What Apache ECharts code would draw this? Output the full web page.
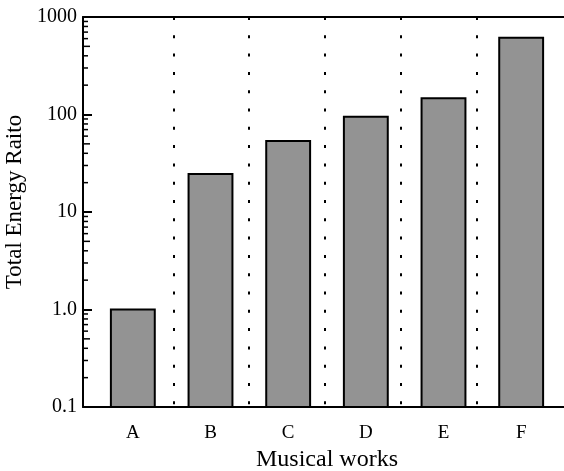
<!DOCTYPE html>
<html>
<head>
<meta charset="utf-8">
<script src="https://cdn.jsdelivr.net/npm/echarts@6/dist/echarts.min.js"></script>
<style>html,body{margin:0;padding:0;background:#fff;}#c{width:564px;height:471px;}</style>
</head>
<body>
<div id="c"></div>
<script>
var categories = ['A', 'B', 'C', 'D', 'E', 'F'];
var energyRatio = [1.0, 24.5, 53.5, 95, 147, 613];
var yTickLabels = ['0.1', '1.0', '10', '100', '1000'];
var yMin = 0.1, yMax = 1000;
var minorTickValues = [];
[0.1, 1, 10, 100].forEach(function (d) {
  for (var k = 2; k <= 9; k++) minorTickValues.push(+(d * k).toPrecision(3));
});

var FONT = 'Liberation Serif';
var chart = echarts.init(document.getElementById('c'));
chart.setOption({
  backgroundColor: '#fff',
  animation: false,
  grid: [
    { left: 83, top: 17, right: 0, bottom: 64, containLabel: false, outerBoundsMode: 'none' },
    { left: 97.5, top: 17, width: 455, bottom: 64, containLabel: false, outerBoundsMode: 'none' },
    { left: 94, top: 17, width: 466, bottom: 64, containLabel: false, outerBoundsMode: 'none' }
  ],
  xAxis: [
    { type: 'value', gridIndex: 0, min: 0, max: 1, position: 'bottom',
      axisLine: { show: true, lineStyle: { color: '#000', width: 2 } },
      axisTick: { show: false }, axisLabel: { show: false }, splitLine: { show: false } },
    { type: 'value', gridIndex: 0, min: 0, max: 1, position: 'top',
      axisLine: { show: true, lineStyle: { color: '#000', width: 2 } },
      axisTick: { show: false }, axisLabel: { show: false }, splitLine: { show: false } },
    { type: 'category', gridIndex: 1, data: categories, position: 'bottom',
      axisLine: { show: false }, axisTick: { show: false }, axisLabel: { show: false },
      splitLine: { show: true, showMinLine: false, showMaxLine: false,
        lineStyle: { color: '#000', width: 2, type: [3, 15.3], dashOffset: 0 } } },
    { type: 'category', gridIndex: 2, data: categories, position: 'bottom',
      axisLine: { show: false }, axisTick: { show: false }, splitLine: { show: false },
      axisLabel: { color: '#000', fontFamily: FONT, fontSize: 19, margin: 17 },
      name: 'Musical works', nameLocation: 'middle', nameGap: 40,
      nameTextStyle: { color: '#000', fontFamily: FONT, fontSize: 24 } }
  ],
  yAxis: [
    { type: 'log', gridIndex: 0, logBase: 10, min: yMin, max: yMax, interval: 1,
      axisLine: { show: true, lineStyle: { color: '#000', width: 2 } },
      axisTick: { show: true, inside: true, length: 9, lineStyle: { color: '#000', width: 2 } },
      axisLabel: { color: '#000', fontFamily: FONT, fontSize: 20, margin: 6,
        formatter: function (v, i) { return yTickLabels[i]; } },
      splitLine: { show: false },
      name: 'Total Energy Raito', nameLocation: 'middle', nameRotate: 90, nameGap: 52,
      nameTextStyle: { color: '#000', fontFamily: FONT, fontSize: 23, padding: [0, 0, 0, 20] } },
    { type: 'log', gridIndex: 1, logBase: 10, min: yMin, max: yMax, show: false },
    { type: 'log', gridIndex: 2, logBase: 10, min: yMin, max: yMax, show: false }
  ],
  series: [
    { type: 'custom', xAxisIndex: 3, yAxisIndex: 2,
      data: categories.map(function (c, i) { return [i, energyRatio[i]]; }),
      renderItem: function (params, api) {
        var top = api.coord([api.value(0), api.value(1)]);
        var base = api.coord([api.value(0), yMin]);
        var w = api.size([1, 0])[0] * 0.565;
        return { type: 'rect',
          shape: { x: top[0] - w / 2, y: top[1], width: w, height: base[1] - top[1] },
          style: { fill: '#939393', stroke: '#000', lineWidth: 2 } };
      } },
    { type: 'custom', xAxisIndex: 0, yAxisIndex: 0,
      data: minorTickValues.map(function (v) { return [0, v]; }),
      renderItem: function (params, api) {
        var p = api.coord([0, api.value(1)]);
        var v = api.value(1);
        var m = Math.round(v / Math.pow(10, Math.floor(Math.log10(v) + 1e-9)));
        var len = m === 5 ? 7 : 5;
        return { type: 'line', shape: { x1: p[0], y1: p[1], x2: p[0] + len, y2: p[1] },
          style: { stroke: '#000', lineWidth: 1.5 } };
      } }
  ]
});
</script>
</body>
</html>
